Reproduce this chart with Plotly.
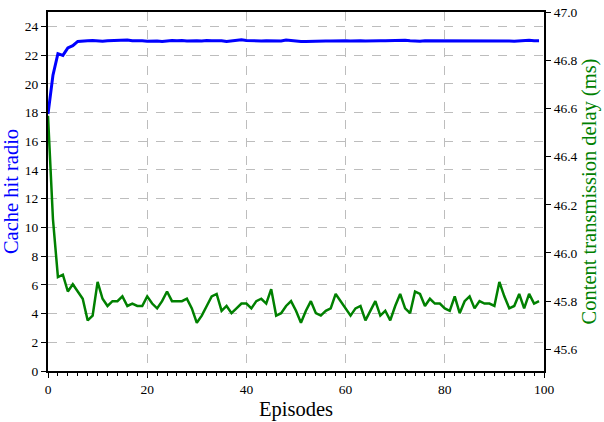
import plotly.graph_objects as go

# data
episodes = list(range(100))

hit_ratio = [
    17.9, 20.6, 22.1, 21.98, 22.5, 22.65, 22.95, 23.0, 23.0, 23.02,
    22.98, 22.97, 23.0, 23.02, 23.02, 23.03, 23.05, 23.0, 23.02, 23.0,
    22.97, 23.0, 22.98, 22.95, 23.0, 23.02, 23.0, 23.02, 22.98, 23.0,
    23.0, 22.98, 23.02, 23.0, 23.02, 23.0, 22.95, 22.98, 23.03, 23.06,
    23.02, 23.0, 23.0, 22.98, 23.0, 23.0, 23.02, 22.98, 23.05, 23.0,
    22.97, 22.95, 22.95, 22.97, 22.98, 23.0, 22.98, 22.98, 23.0, 23.0,
    23.0, 22.98, 23.0, 23.0, 22.98, 23.0, 23.02, 23.0, 23.0, 23.02,
    23.03, 23.06, 23.03, 23.0, 22.96, 22.97, 23.0, 23.0, 23.0, 22.98,
    22.98, 23.0, 23.02, 23.0, 23.0, 23.02, 23.0, 23.0, 23.0, 23.0,
    23.02, 23.03, 23.0, 22.98, 22.97, 23.0, 23.02, 23.03, 23.0, 23.0,
]

delay = [
    46.57, 46.14, 45.90, 45.91, 45.84, 45.87, 45.84, 45.81, 45.72, 45.74,
    45.88, 45.81, 45.78, 45.80, 45.80, 45.82, 45.78, 45.79, 45.78, 45.78,
    45.82, 45.79, 45.77, 45.80, 45.84, 45.80, 45.80, 45.80, 45.81, 45.77,
    45.71, 45.74, 45.78, 45.82, 45.83, 45.76, 45.78, 45.75, 45.77, 45.79,
    45.79, 45.77, 45.80, 45.81, 45.79, 45.85, 45.74, 45.75, 45.78, 45.80,
    45.76, 45.71, 45.76, 45.80, 45.75, 45.74, 45.76, 45.77, 45.83, 45.80,
    45.77, 45.74, 45.77, 45.78, 45.72, 45.76, 45.80, 45.74, 45.76, 45.72,
    45.78, 45.83, 45.77, 45.75, 45.84, 45.83, 45.78, 45.81, 45.79, 45.79,
    45.77, 45.76, 45.82, 45.75, 45.80, 45.82, 45.77, 45.80, 45.79, 45.79,
    45.78, 45.88, 45.82, 45.77, 45.78, 45.83, 45.77, 45.83, 45.79, 45.80,
]

serif = "Liberation Serif"

fig = go.Figure()
fig.add_trace(go.Scatter(x=episodes, y=hit_ratio, mode="lines", name="Cache hit radio",
                         line=dict(color="#0000ff", width=3)))
fig.add_trace(go.Scatter(x=episodes, y=delay, mode="lines", name="Content transmission delay",
                         line=dict(color="#008000", width=2.5), yaxis="y2"))

fig.update_layout(
    width=604, height=422,
    margin=dict(l=48, r=60, t=5, b=48),
    plot_bgcolor="white", paper_bgcolor="white",
    showlegend=False,
    font=dict(family=serif, size=13.5, color="black"),
    xaxis=dict(
        range=[0, 100], dtick=20, showline=True, linecolor="black", linewidth=2,
        mirror=True, ticks="outside", ticklen=5, tickcolor="black",
        tickfont=dict(family=serif, size=13.5),
        showgrid=True, gridcolor="#bdbdbd", griddash="dash", gridwidth=1,
        zeroline=False,
        minor=dict(dtick=2, ticks="outside", ticklen=3, tickcolor="black", showgrid=False),
        title=dict(text="Episodes", font=dict(family=serif, size=20.5), standoff=5),
    ),
    yaxis=dict(
        range=[0, 25], dtick=2, showline=True, linecolor="black", linewidth=2,
        ticks="outside", ticklen=5, tickcolor="black",
        tickfont=dict(family=serif, size=13.5),
        showgrid=True, gridcolor="#bdbdbd", griddash="dash", gridwidth=1,
        zeroline=False,
        title=dict(text="Cache hit radio", font=dict(family=serif, size=20.5, color="#0000ff"),
                   standoff=2),
    ),
    yaxis2=dict(
        range=[45.51, 47.0005], dtick=0.2, tickformat=".1f", overlaying="y", side="right",
        showline=True, linecolor="black", linewidth=2,
        ticks="outside", ticklen=5, tickcolor="black",
        tickfont=dict(family=serif, size=13.5), ticklabeloverflow="allow",
        showgrid=False, zeroline=False,
        title=dict(text="Content transmission delay (ms)",
                   font=dict(family=serif, size=20.5, color="#008000"), standoff=4),
    ),
)

# drop the default page margin so the figure sits at the window's corner
fig.write_html("out.html", config={"displayModeBar": False},
               post_script="document.body.style.margin='0';")
